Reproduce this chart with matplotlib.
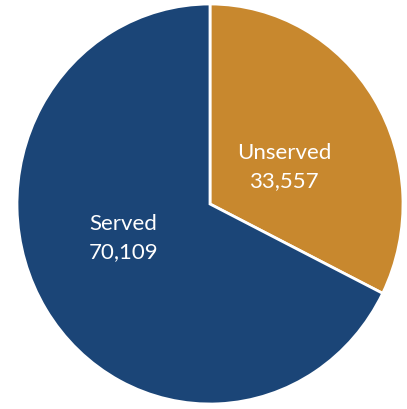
import matplotlib.pyplot as plt

categories = ["Unserved", "Served"]
values = [33557, 70109]
colors = ["#C8882E", "#1B4577"]

plt.rcParams['font.family'] = ['Lato', 'DejaVu Sans']

fig = plt.figure(figsize=(4.07, 4.10), dpi=100)
ax = fig.add_axes([17 / 407, 5 / 410, 386 / 407, 400 / 410])
wedges, _ = ax.pie(values, colors=colors, startangle=90, counterclock=False,
                   wedgeprops=dict(edgecolor="white", linewidth=2))
ax.set_aspect('auto')
ax.set_xlim(-1, 1)
ax.set_ylim(-1, 1)

# label spots inside each slice
spots = {"Unserved": (0.385, 0.19), "Served": (-0.45, -0.165)}
for name, val in zip(categories, values):
    x, y = spots[name]
    ax.text(x, y, f"{name}\n{val:,}", ha="center", va="center",
            color="white", fontsize=16, linespacing=1.45)

fig.savefig("out.png", dpi=100)
